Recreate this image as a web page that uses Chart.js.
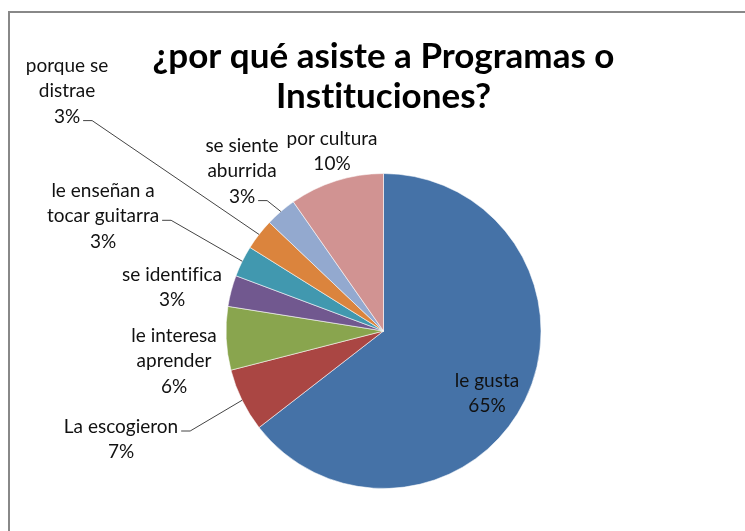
<!DOCTYPE html>
<html>
<head>
<meta charset="utf-8">
<script src="https://cdn.jsdelivr.net/npm/chart.js@4/dist/chart.umd.min.js"></script>
<style>
html,body{margin:0;padding:0;background:#fff;}
#wrap{width:745px;height:531px;position:relative;}
</style>
</head>
<body>
<div id="wrap"><canvas id="pie" width="745" height="531"></canvas></div>
<script>
// ===== data =====
const CATS = ['le gusta','La escogieron','le interesa aprender','se identifica','le enseñan a tocar guitarra','porque se distrae','se siente aburrida','por cultura'];
const VALUES = [64.5, 6.5, 6.5, 3.2, 3.2, 3.2, 3.2, 9.7];
const PCT_TEXT = ['65%','7%','6%','3%','3%','3%','3%','10%'];
const COLORS = ['#4572A7','#AA4643','#89A54E','#71588F','#4198AF','#DB843D','#93A9CF','#D19392'];

// label boxes as placed in the original (line text, center x, first line y, leader?)
const LABEL_LINES = [
  ['le gusta'],
  ['La escogieron'],
  ['le interesa','aprender'],
  ['se identifica'],
  ['le enseñan a','tocar guitarra'],
  ['porque se','distrae'],
  ['se siente','aburrida'],
  ['por cultura']
].map((l,i)=>l.concat(PCT_TEXT[i]));
const LABEL_POS = [
  {x:487,y:381},{x:121,y:427,lead:0},{x:174,y:336},{x:172,y:275},
  {x:103,y:191,lead:1},{x:67,y:66,lead:2},{x:242,y:146,lead:2},{x:332,y:139}
];
const LINE_H = 25.3;
const FONT = "'Lato', 'Carlito', sans-serif";

// ===== frame lines (chart border, left + top only visible) =====
const framePlugin = {
  id:'frame',
  beforeDraw(chart){
    const ctx=chart.ctx;
    if('textRendering' in ctx) ctx.textRendering='optimizeSpeed'; // no "ti" ligature
    ctx.save();
    ctx.strokeStyle='#888'; ctx.lineWidth=2;
    ctx.beginPath(); ctx.moveTo(9,531); ctx.lineTo(9,12); ctx.lineTo(745,12); ctx.stroke();
    ctx.restore();
  }
};

// ===== data labels with leader lines =====
const labelPlugin = {
  id:'pieLabels',
  afterDatasetsDraw(chart){
    const ctx=chart.ctx, arcs=chart.getDatasetMeta(0).data;
    ctx.save();
    ctx.font='19px '+FONT; ctx.fillStyle='#111'; ctx.textAlign='center'; ctx.textBaseline='middle';
    arcs.forEach((arc,i)=>{
      const p=LABEL_POS[i], lines=LABEL_LINES[i];
      lines.forEach((t,k)=>ctx.fillText(t,p.x,p.y+k*LINE_H));
      if(p.lead!==undefined){
        const t=lines[p.lead], w=ctx.measureText(t).width;
        const sx=p.x+w/2+3, sy=p.y+p.lead*LINE_H+4;
        const mid=(arc.startAngle+arc.endAngle)/2;
        const ex=arc.x+Math.cos(mid)*arc.outerRadius, ey=arc.y+Math.sin(mid)*arc.outerRadius;
        ctx.strokeStyle='#444'; ctx.lineWidth=1;
        ctx.beginPath(); ctx.moveTo(sx,sy); ctx.lineTo(sx+9,sy); ctx.lineTo(ex,ey); ctx.stroke();
      }
    });
    ctx.restore();
  }
};

new Chart(document.getElementById('pie'),{
  type:'pie',
  data:{labels:CATS,datasets:[{data:VALUES,backgroundColor:COLORS,borderColor:'rgba(255,255,255,0.55)',borderWidth:1}]},
  options:{
    responsive:false,animation:false,
    layout:{padding:{left:22,right:0,top:0,bottom:42}},
    plugins:{
      legend:{display:false},tooltip:{enabled:false},
      title:{display:true,text:['¿por qué asiste a Programas o','Instituciones?'],
        color:'#000',font:{family:FONT,size:35,weight:'bold',lineHeight:40/35},
        padding:{top:37,bottom:56}}
    }
  },
  plugins:[framePlugin,labelPlugin]
});
</script>
</body>
</html>
